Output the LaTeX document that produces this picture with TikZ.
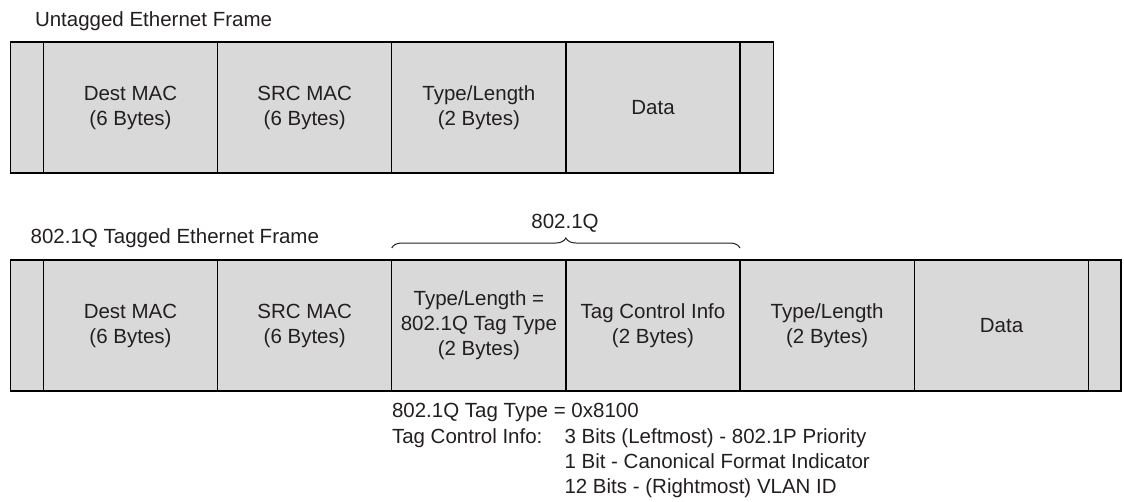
\documentclass[tikz,border=0pt]{standalone}
\usepackage{fontspec}
\setmainfont{Liberation Sans}
\usetikzlibrary{decorations.pathreplacing}
\definecolor{cellgray}{HTML}{D9D9D9}
\definecolor{inkgray}{HTML}{231F20}
\tikzset{
  cell/.style={draw=black, line width=1.5pt, fill=cellgray, anchor=north west,
    inner sep=0pt, outer sep=0pt, align=center, text=inkgray,
    font=\fontsize{20.5}{25}\selectfont},
  label/.style={inner sep=0pt, outer sep=0pt, text=inkgray,
    font=\fontsize{20.5}{25}\selectfont},
  bracestyle/.style={draw=inkgray, line width=1pt,
    decorate, decoration={brace, amplitude=10pt}}
}
\begin{document}
\begin{tikzpicture}[x=1pt, y=-1pt]
\useasboundingbox (0,0) rectangle (1124,501);

% Untagged frame
\node[label, anchor=base west] (t1) at (35,26) {Untagged Ethernet Frame};
\node[cell, minimum width=32.6pt, minimum height=131pt] (u0) at (10.7,42) {};
\node[cell, minimum width=174.4pt, minimum height=131pt] (u1) at (43.3,42) {Dest MAC\\(6 Bytes)};
\node[cell, minimum width=174pt, minimum height=131pt] (u2) at (217.7,42) {SRC MAC\\(6 Bytes)};
\node[cell, minimum width=174.3pt, minimum height=131pt] (u3) at (391.7,42) {Type/Length\\(2 Bytes)};
\node[cell, minimum width=174pt, minimum height=131pt] (u4) at (566,42) {Data};
\node[cell, minimum width=33.3pt, minimum height=131pt] (u5) at (740,42) {};

% 802.1Q tagged frame
\node[label, anchor=base west] (t2) at (30.7,243) {802.1Q Tagged Ethernet Frame};
\node[cell, minimum width=32.6pt, minimum height=131pt] (q0) at (10.7,260) {};
\node[cell, minimum width=174.4pt, minimum height=131pt] (q1) at (43.3,260) {Dest MAC\\(6 Bytes)};
\node[cell, minimum width=174pt, minimum height=131pt] (q2) at (217.7,260) {SRC MAC\\(6 Bytes)};
\node[cell, minimum width=174.3pt, minimum height=131pt] (q3) at (391.7,260) {Type/Length =\\802.1Q Tag Type\\(2 Bytes)};
\node[cell, minimum width=174pt, minimum height=131pt] (q4) at (566,260) {Tag Control Info\\(2 Bytes)};
\node[cell, minimum width=174.3pt, minimum height=131pt] (q5) at (740,260) {Type/Length\\(2 Bytes)};
\node[cell, minimum width=174.4pt, minimum height=131pt] (q6) at (914.3,260) {Data};
\node[cell, minimum width=32.3pt, minimum height=131pt] (q7) at (1088.7,260) {};

% Brace over the inserted tag fields
\coordinate (bl) at ([yshift=12pt]q3.north west);
\coordinate (br) at ([yshift=12pt]q4.north east);
\draw[bracestyle] (bl) -- (br);
\node[label, anchor=base] (tagname) at (565,228) {802.1Q};

% Notes below the tagged frame
\node[label, anchor=base west] (n1) at (392,417) {802.1Q Tag Type = 0x8100};
\node[label, anchor=base west] (n2) at (392,443) {Tag Control Info:};
\node[label, anchor=base west] (n3) at (564.5,443) {3 Bits (Leftmost) - 802.1P Priority};
\node[label, anchor=base west] (n4) at (564.5,468) {1 Bit - Canonical Format Indicator};
\node[label, anchor=base west] (n5) at (564.5,493) {12 Bits - (Rightmost) VLAN ID};
\end{tikzpicture}
\end{document}
